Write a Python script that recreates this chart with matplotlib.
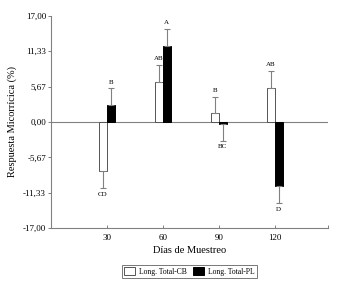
import numpy as np
import matplotlib.pyplot as plt

plt.rcParams['font.family'] = ['Liberation Serif', 'DejaVu Serif']

dias = ['30', '60', '90', '120']
cb = [-7.9, 6.4, 1.4, 5.4]
cb_err = [2.7, 2.7, 2.6, 2.8]
pl = [2.7, 12.2, -0.3, -10.3]
pl_err = [2.7, 2.7, 2.7, 2.7]
cb_letras = ['CD', 'AB', 'B', 'AB']
pl_letras = ['B', 'A', 'BC', 'D']
yticks = [17.0, 11.33, 5.67, 0.0, -5.67, -11.33, -17.0]

fig = plt.figure(figsize=(3.37, 2.84), dpi=100)
ax = fig.add_axes([0.151, 0.197, 0.822, 0.747])

x = np.arange(1, len(dias) + 1)
w = 0.14
grey = '#808080'

def one_sided(vals, errs):
    lo = [e if v < 0 else 0 for v, e in zip(vals, errs)]
    hi = [e if v >= 0 else 0 for v, e in zip(vals, errs)]
    return [lo, hi]

ax.bar(x - w / 2, cb, w, color='white', edgecolor='#555555', linewidth=0.7,
       yerr=one_sided(cb, cb_err), ecolor=grey,
       error_kw=dict(elinewidth=0.8, capsize=2.5, capthick=0.8),
       label='Long. Total-CB', zorder=3)
ax.bar(x + w / 2, pl, w, color='black', edgecolor='black', linewidth=0.7,
       yerr=one_sided(pl, pl_err), ecolor=grey,
       error_kw=dict(elinewidth=0.8, capsize=2.5, capthick=0.8),
       label='Long. Total-PL', zorder=3)

for xi, v, e, t in zip(x - w / 2, cb, cb_err, cb_letras):
    y = v + e + 0.6 if v >= 0 else v - e - 0.6
    ax.text(xi, y, t, ha='center', va='bottom' if v >= 0 else 'top', fontsize=5)
for xi, v, e, t in zip(x + w / 2, pl, pl_err, pl_letras):
    y = v + e + 0.6 if v >= 0 else v - e - 0.6
    ax.text(xi, y, t, ha='center', va='bottom' if v >= 0 else 'top', fontsize=5)

ax.axhline(0, color=grey, linewidth=0.8, zorder=2)

ax.set_xlim(0, 4.95)
ax.set_ylim(-17, 17)
ax.set_xticks(list(x) + [4.95])
ax.set_xticklabels(dias + [''])
ax.set_yticks(yticks)
ax.set_yticklabels([('%.2f' % t).replace('.', ',') for t in yticks])
ax.tick_params(labelsize=6.5, length=2.5, width=0.7, color=grey, pad=1)
ax.tick_params(axis='x', direction='in', pad=4)

for s in ['top', 'right']:
    ax.spines[s].set_visible(False)
for s in ['left', 'bottom']:
    ax.spines[s].set_color(grey)
    ax.spines[s].set_linewidth(0.8)

ax.set_ylabel('Respuesta Micorrícica (%)', fontsize=7.5, labelpad=4)
ax.set_xlabel('Días de Muestreo', fontsize=7.5, labelpad=3)

leg = ax.legend(loc='upper center', bbox_to_anchor=(0.5, -0.155), ncol=2,
                fontsize=5.5, frameon=True, fancybox=False, edgecolor='#555555',
                handlelength=1.4, handleheight=1.4, columnspacing=0.8,
                handletextpad=0.6, borderpad=0.25)
leg.get_frame().set_linewidth(0.7)

fig.savefig('out.png', dpi=100)
